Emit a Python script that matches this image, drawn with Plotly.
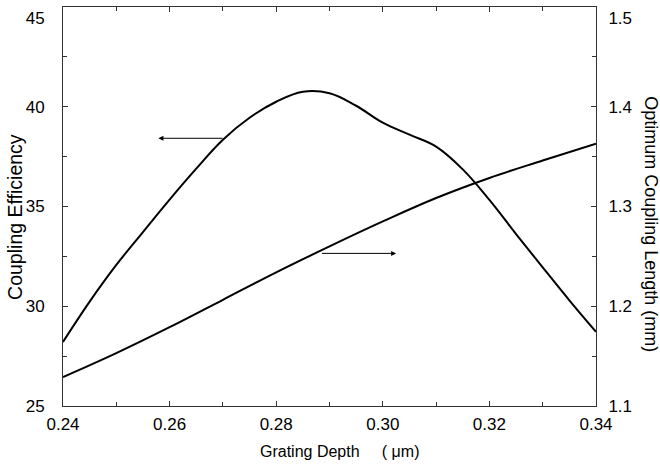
import plotly.graph_objects as go

# Grating depth samples (um)
depth = [0.240, 0.245, 0.250, 0.255, 0.260, 0.265, 0.270, 0.275, 0.280, 0.285, 0.290,
         0.295, 0.300, 0.305, 0.310, 0.315, 0.320, 0.325, 0.330, 0.335, 0.340]

# Coupling efficiency (left axis)
efficiency = [28.21, 30.23, 32.07, 33.72, 35.35, 36.9, 38.35, 39.45, 40.25, 40.75, 40.68,
              40.05, 39.2, 38.6, 38.0, 36.86, 35.33, 33.62, 31.95, 30.3, 28.72]

# Optimum coupling length (right axis, mm)
length_depth = [0.24, 0.25, 0.26, 0.27, 0.28, 0.29, 0.30, 0.31, 0.32, 0.33, 0.34]
coupling_length = [1.129, 1.153, 1.179, 1.2065, 1.234, 1.260, 1.285, 1.3085, 1.3286, 1.3461, 1.363]

x_ticks = [0.24, 0.26, 0.28, 0.30, 0.32, 0.34]
left_ticks = [25, 30, 35, 40, 45]
left_text = ["25", "30", "35", "40", "<br>45"]
right_ticks = [1.1, 1.2, 1.3, 1.4, 1.5]
right_text = ["1.1", "1.2", "1.3", "1.4", "<br>1.5"]

# arrow annotations: (tail x, head x, y)
arrow_left = (0.2702, 0.2579, 38.42)
arrow_right = (0.2883, 0.3025, 1.253)

FONT = "Liberation Sans, Arial, Helvetica, sans-serif"
AX = "#333333"

fig = go.Figure()
fig.add_trace(go.Scatter(x=depth, y=efficiency, mode="lines",
                         line=dict(color="black", width=2, shape="spline", smoothing=1.1),
                         showlegend=False, yaxis="y"))
fig.add_trace(go.Scatter(x=length_depth, y=coupling_length, mode="lines",
                         line=dict(color="black", width=2, shape="spline", smoothing=1.1),
                         showlegend=False, yaxis="y2"))

fig.update_layout(
    width=660, height=468,
    margin=dict(l=63, r=64, t=7, b=62),
    paper_bgcolor="white", plot_bgcolor="white",
    font=dict(family=FONT, color="black", size=17),
    xaxis=dict(range=[0.24, 0.34], tickvals=x_ticks, tickformat=".2f",
               ticks="inside", ticklen=5, tickcolor=AX, showline=True, linecolor=AX,
               linewidth=1, mirror="ticks", showgrid=False, zeroline=False,
               minor=dict(dtick=0.01, tick0=0.24, ticks="inside", ticklen=4, tickcolor=AX),
               tickfont=dict(size=17), ticklabelstandoff=3, ticklabeloverflow="allow"),
    yaxis=dict(range=[25, 45], tickvals=left_ticks, ticktext=left_text,
               ticks="inside", ticklen=5,
               tickcolor=AX, showline=True, linecolor=AX, linewidth=1,
               showgrid=False, zeroline=False,
               minor=dict(dtick=2.5, tick0=25, ticks="inside", ticklen=4, tickcolor=AX),
               tickfont=dict(size=17), ticklabelstandoff=14, ticklabeloverflow="allow"),
    yaxis2=dict(range=[1.1, 1.5], tickvals=right_ticks, ticktext=right_text,
                overlaying="y", side="right", ticks="inside", ticklen=5,
                tickcolor=AX, showline=True, linecolor=AX, linewidth=1,
                showgrid=False, zeroline=False,
                minor=dict(dtick=0.05, tick0=1.1, ticks="inside", ticklen=4, tickcolor=AX),
                tickfont=dict(size=17), ticklabelstandoff=8, ticklabeloverflow="allow"),
)

annotations = [
    dict(text="Coupling Efficiency", xref="paper", yref="paper", x=-0.090, y=0.474,
         xanchor="center", yanchor="middle", textangle=-90, showarrow=False,
         font=dict(size=19.5)),
    dict(text="Optimum Coupling Length (mm)", xref="paper", yref="paper", x=1.103, y=0.456,
         xanchor="center", yanchor="middle", textangle=90, showarrow=False,
         font=dict(size=18)),
    dict(text="Grating Depth\u00a0\u00a0\u00a0\u00a0 (\u00a0\u03bcm)", xref="paper", yref="paper",
         x=0.518, y=-0.115, xanchor="center", yanchor="middle", showarrow=False,
         font=dict(size=16)),
    dict(x=arrow_left[1], y=arrow_left[2], ax=arrow_left[0], ay=arrow_left[2],
         xref="x", yref="y", axref="x", ayref="y", text="", showarrow=True,
         arrowhead=2, arrowsize=1, arrowwidth=1, arrowcolor="black"),
    dict(x=arrow_right[1], y=arrow_right[2], ax=arrow_right[0], ay=arrow_right[2],
         xref="x", yref="y2", axref="x", ayref="y2", text="", showarrow=True,
         arrowhead=2, arrowsize=1, arrowwidth=1, arrowcolor="black"),
]
fig.update_layout(annotations=annotations)

fig.write_html("out.html")
